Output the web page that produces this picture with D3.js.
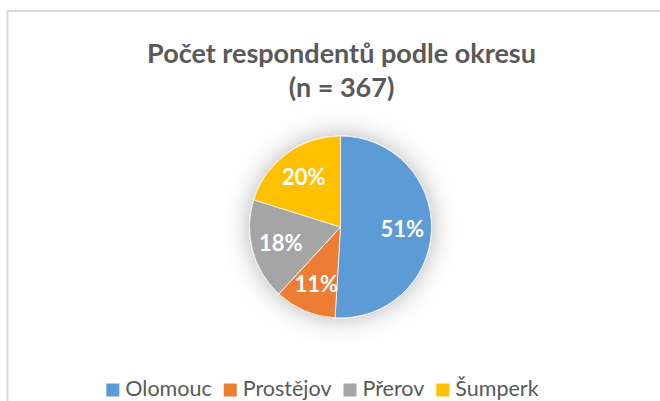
<!DOCTYPE html>
<html lang="cs">
<head>
  <meta charset="UTF-8" />
  <title>Počet respondentů podle okresu</title>
  <script src="https://cdn.jsdelivr.net/npm/d3@7"></script>
  <style>
    body { margin: 0; background: #fff; }
    svg { display: block; font-family: Lato, "Open Sans", sans-serif; }
  </style>
</head>
<body>
  <div id="chart"></div>
  <script>
    // data (n = 367)
    var districts = ["Olomouc", "Prostějov", "Přerov", "Šumperk"];
    var counts = [187, 40, 66, 74];
    var colors = ["#5B9BD5", "#ED7D31", "#A5A5A5", "#FFC000"];
    var titleLines = ["Počet respondentů podle okresu", "(n = 367)"];

    var width = 660, height = 401;
    var cx = 340.5, cy = 227, r = 91;

    var svg = d3.select("#chart").append("svg")
      .attr("width", width)
      .attr("height", height);

    // chart area border (runs off the right and bottom of the picture)
    svg.append("rect")
      .attr("x", 7.5).attr("y", 11)
      .attr("width", 700).attr("height", 420)
      .attr("fill", "#fff")
      .attr("stroke", "#d9d9d9")
      .attr("stroke-width", 2);

    // soft glow behind the pie
    var defs = svg.append("defs");
    var f = defs.append("filter").attr("id", "glow")
      .attr("x", "-60%").attr("y", "-60%").attr("width", "220%").attr("height", "220%");
    f.append("feGaussianBlur").attr("in", "SourceAlpha").attr("stdDeviation", 12).attr("result", "b");
    f.append("feFlood").attr("flood-color", "#000").attr("flood-opacity", 0.3);
    f.append("feComposite").attr("in2", "b").attr("operator", "in").attr("result", "s");
    var m = f.append("feMerge");
    m.append("feMergeNode").attr("in", "s");
    m.append("feMergeNode").attr("in", "SourceGraphic");

    // title
    var title = svg.append("g").attr("fill", "#595959")
      .attr("font-weight", "bold").attr("text-anchor", "middle");
    title.selectAll("text")
      .data(titleLines)
      .join("text")
      .attr("x", 341.5)
      .attr("y", (d, i) => 62.5 + i * 34.5)
      .attr("font-size", 24)
      .text(d => d);
    // fit title width to the reference (~389px for the first line)
    var t0 = title.select("text").node();
    var fs = 24 * 389 / t0.getComputedTextLength();
    title.selectAll("text").attr("font-size", fs);

    // pie
    var pie = d3.pie().sort(null).value(d => d.value);
    var arcs = pie(districts.map((d, i) => ({ name: d, value: counts[i] })));
    var total = d3.sum(counts);
    var color = d3.scaleOrdinal().domain(districts).range(colors);
    var arc = d3.arc().innerRadius(0).outerRadius(r);
    var labelArc = d3.arc().innerRadius(r * 0.68).outerRadius(r * 0.68);

    var g = svg.append("g").attr("transform", "translate(" + cx + "," + cy + ")");
    g.append("g").attr("filter", "url(#glow)")
      .selectAll("path")
      .data(arcs)
      .join("path")
      .attr("d", arc)
      .attr("fill", d => color(d.data.name))
      .attr("stroke", "#fff")
      .attr("stroke-width", 0.75);

    g.selectAll("text.lbl")
      .data(arcs)
      .join("text")
      .attr("class", "lbl")
      .attr("transform", d => "translate(" + labelArc.centroid(d) + ")")
      .attr("text-anchor", "middle")
      .attr("dy", "0.36em")
      .attr("fill", "#fff")
      .attr("font-weight", "bold")
      .attr("font-size", 22)
      .text(d => d3.format(".0%")(d.data.value / total));

    // legend, laid out left to right
    var legend = svg.append("g");
    var box = 13, gap = 6, itemGap = 12, x = 0;
    var items = legend.selectAll("g")
      .data(districts)
      .join("g");
    items.append("rect")
      .attr("y", -box + 1)
      .attr("width", box).attr("height", box)
      .attr("fill", d => color(d));
    items.append("text")
      .attr("x", box + gap)
      .attr("fill", "#595959")
      .attr("font-size", 21.5)
      .text(d => d);
    items.each(function() {
      d3.select(this).attr("transform", "translate(" + x + ",0)");
      x += this.getBBox().width + itemGap;
    });
    var legendW = x - itemGap;
    legend.attr("transform", "translate(" + (322.5 - legendW / 2) + ",395.5)");
  </script>
</body>
</html>
